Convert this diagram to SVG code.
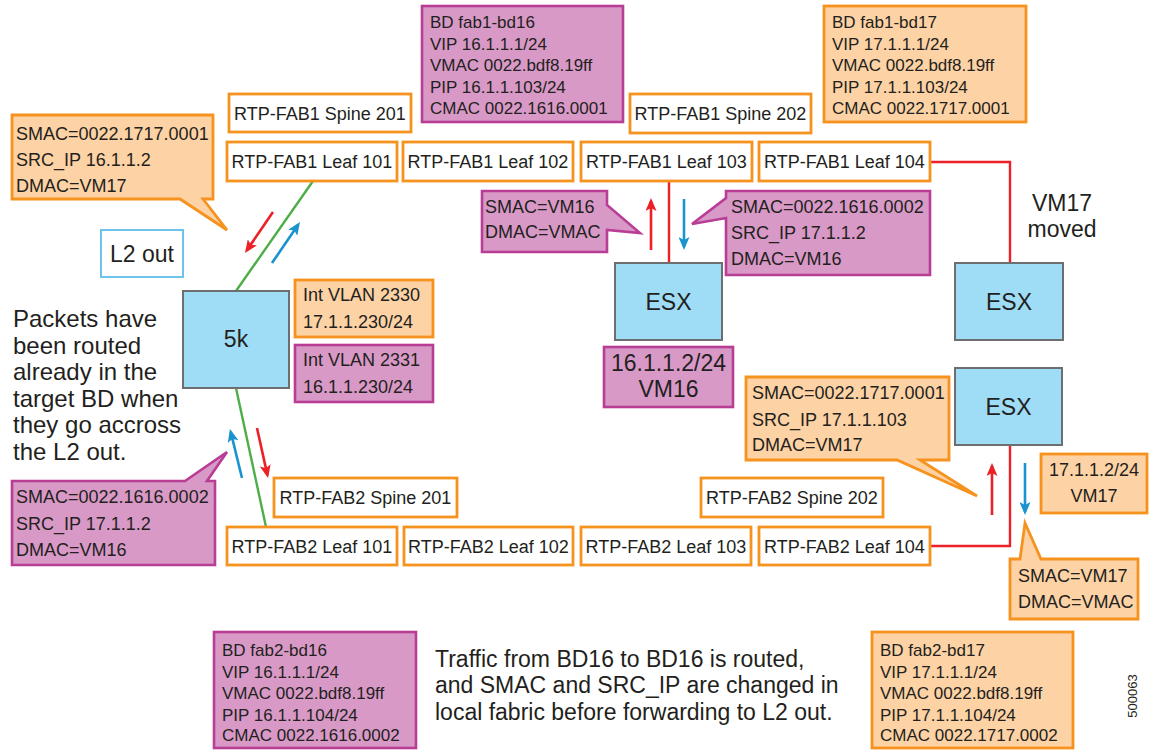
<svg xmlns="http://www.w3.org/2000/svg" width="1156" height="751" viewBox="0 0 1156 751">
  <style>
    text { font-family: "Liberation Sans", Arial, sans-serif; fill: #231f20; }
    .lbl { font-size: 18px; }
    .bd { font-size: 17px; }
    .big { font-size: 23px; }
    .note { font-size: 24px; }
    .sw { fill: #ffffff; stroke: #f6921e; stroke-width: 2.8; }
    .or { fill: #fdd2a4; stroke: #f6921e; stroke-width: 2.8; stroke-linejoin: miter; }
    .pu { fill: #d899c7; stroke: #b83d95; stroke-width: 2.6; stroke-linejoin: miter; }
    .hw { fill: #9fdcf6; stroke: #6d6e70; stroke-width: 2; }
    .l2 { fill: #ffffff; stroke: #6cc4ea; stroke-width: 2; }
    .mid { text-anchor: middle; }
    .red { stroke: #ec2027; stroke-width: 2.4; fill: none; }
    .grn { stroke: #4dae48; stroke-width: 2.4; fill: none; }
    .ar-r { stroke: #ec2027; stroke-width: 2.6; fill: none; marker-end: url(#head-red); }
    .ar-b { stroke: #1a93cf; stroke-width: 2.6; fill: none; marker-end: url(#head-blue); }
  </style>
  <defs>
    <marker id="head-red" viewBox="0 0 13 11" refX="10" refY="5.5" markerWidth="13" markerHeight="11" markerUnits="userSpaceOnUse" orient="auto">
      <path d="M0,0 L13,5.5 L0,11 L3,5.5 Z" fill="#ec2027"/>
    </marker>
    <marker id="head-blue" viewBox="0 0 13 11" refX="10" refY="5.5" markerWidth="13" markerHeight="11" markerUnits="userSpaceOnUse" orient="auto">
      <path d="M0,0 L13,5.5 L0,11 L3,5.5 Z" fill="#1a93cf"/>
    </marker>
  </defs>

  <rect x="0" y="0" width="1156" height="751" fill="#ffffff"/>

  <!-- links and traffic arrows -->
  <g id="connectors">
    <line class="grn" x1="313" y1="181" x2="236" y2="291"/>
    <line class="grn" x1="236" y1="388" x2="266" y2="527"/>
    <line class="red" x1="669" y1="181" x2="669" y2="263"/>
    <polyline class="red" points="930,162 1010,162 1010,263"/>
    <polyline class="red" points="1010,445 1010,546 930,546"/>

    <line class="ar-r" x1="273" y1="212" x2="246.7" y2="250.5"/>
    <line class="ar-b" x1="272" y1="263" x2="298.3" y2="224.5"/>
    <line class="ar-b" x1="242" y1="478" x2="230.7" y2="431.9"/>
    <line class="ar-r" x1="257" y1="428" x2="267.4" y2="475.1"/>
    <line class="ar-r" x1="651" y1="250" x2="651" y2="201"/>
    <line class="ar-b" x1="684" y1="199" x2="684" y2="247"/>
    <line class="ar-r" x1="992" y1="515" x2="992" y2="466"/>
    <line class="ar-b" x1="1025" y1="463" x2="1025" y2="512"/>
  </g>

  <!-- fabric 1 switches -->
  <g id="fab1-spine201"><rect class="sw" x="229" y="94" width="182" height="38"/><text class="lbl mid" x="320" y="120">RTP-FAB1 Spine 201</text></g>
  <g id="fab1-spine202"><rect class="sw" x="630" y="94" width="181" height="39"/><text class="lbl mid" x="720.5" y="120">RTP-FAB1 Spine 202</text></g>
  <g id="fab1-leaf101"><rect class="sw" x="227" y="142" width="170" height="39"/><text class="lbl mid" x="312" y="168">RTP-FAB1 Leaf 101</text></g>
  <g id="fab1-leaf102"><rect class="sw" x="403" y="142" width="170" height="39"/><text class="lbl mid" x="488" y="168">RTP-FAB1 Leaf 102</text></g>
  <g id="fab1-leaf103"><rect class="sw" x="581" y="142" width="171" height="39"/><text class="lbl mid" x="666.5" y="168">RTP-FAB1 Leaf 103</text></g>
  <g id="fab1-leaf104"><rect class="sw" x="759" y="142" width="171" height="39"/><text class="lbl mid" x="844.5" y="168">RTP-FAB1 Leaf 104</text></g>

  <!-- fabric 2 switches -->
  <g id="fab2-spine201"><rect class="sw" x="274" y="478" width="183" height="39"/><text class="lbl mid" x="365.5" y="504">RTP-FAB2 Spine 201</text></g>
  <g id="fab2-spine202"><rect class="sw" x="701" y="478" width="182" height="39"/><text class="lbl mid" x="792" y="504">RTP-FAB2 Spine 202</text></g>
  <g id="fab2-leaf101"><rect class="sw" x="227" y="527" width="170" height="38"/><text class="lbl mid" x="312" y="553">RTP-FAB2 Leaf 101</text></g>
  <g id="fab2-leaf102"><rect class="sw" x="404" y="527" width="169" height="38"/><text class="lbl mid" x="488.5" y="553">RTP-FAB2 Leaf 102</text></g>
  <g id="fab2-leaf103"><rect class="sw" x="581" y="527" width="170" height="38"/><text class="lbl mid" x="666" y="553">RTP-FAB2 Leaf 103</text></g>
  <g id="fab2-leaf104"><rect class="sw" x="759" y="527" width="171" height="38"/><text class="lbl mid" x="844.5" y="553">RTP-FAB2 Leaf 104</text></g>

  <!-- bridge domain tables -->
  <g id="bd-fab1-bd16">
    <rect class="pu" x="422" y="6" width="201" height="116"/>
    <text class="bd" x="430" y="28">BD fab1-bd16</text>
    <text class="bd" x="430" y="49.5">VIP 16.1.1.1/24</text>
    <text class="bd" x="430" y="71">VMAC 0022.bdf8.19ff</text>
    <text class="bd" x="430" y="92.5">PIP 16.1.1.103/24</text>
    <text class="bd" x="430" y="114">CMAC 0022.1616.0001</text>
  </g>
  <g id="bd-fab1-bd17">
    <rect class="or" x="824" y="6" width="202" height="116"/>
    <text class="bd" x="832" y="28">BD fab1-bd17</text>
    <text class="bd" x="832" y="49.5">VIP 17.1.1.1/24</text>
    <text class="bd" x="832" y="71">VMAC 0022.bdf8.19ff</text>
    <text class="bd" x="832" y="92.5">PIP 17.1.1.103/24</text>
    <text class="bd" x="832" y="114">CMAC 0022.1717.0001</text>
  </g>
  <g id="bd-fab2-bd16">
    <rect class="pu" x="214" y="632" width="202" height="116"/>
    <text class="bd" x="222" y="656">BD fab2-bd16</text>
    <text class="bd" x="222" y="677.5">VIP 16.1.1.1/24</text>
    <text class="bd" x="222" y="699">VMAC 0022.bdf8.19ff</text>
    <text class="bd" x="222" y="720.5">PIP 16.1.1.104/24</text>
    <text class="bd" x="222" y="741">CMAC 0022.1616.0002</text>
  </g>
  <g id="bd-fab2-bd17">
    <rect class="or" x="872" y="632" width="201" height="116"/>
    <text class="bd" x="880" y="656">BD fab2-bd17</text>
    <text class="bd" x="880" y="677.5">VIP 17.1.1.1/24</text>
    <text class="bd" x="880" y="699">VMAC 0022.bdf8.19ff</text>
    <text class="bd" x="880" y="720.5">PIP 17.1.1.104/24</text>
    <text class="bd" x="880" y="741">CMAC 0022.1717.0002</text>
  </g>

  <!-- hosts and the 5k -->
  <g id="l2-out"><rect class="l2" x="101" y="230" width="82" height="47"/><text class="big mid" x="142" y="262">L2 out</text></g>
  <g id="n5k"><rect class="hw" x="183" y="291" width="106" height="97"/><text class="big mid" x="236" y="347">5k</text></g>
  <g id="esx-vm16"><rect class="hw" x="615" y="263" width="107" height="77"/><text class="big mid" x="668.5" y="310">ESX</text></g>
  <g id="esx-fab1"><rect class="hw" x="955" y="263" width="108" height="77"/><text class="big mid" x="1009" y="310">ESX</text></g>
  <g id="esx-vm17"><rect class="hw" x="955" y="368" width="107" height="77"/><text class="big mid" x="1008.5" y="415">ESX</text></g>

  <!-- SVI and VM addresses -->
  <g id="svi-2330">
    <rect class="or" x="295" y="280" width="138" height="57"/>
    <text class="lbl" x="303" y="301">Int VLAN 2330</text>
    <text class="lbl" x="303" y="328">17.1.1.230/24</text>
  </g>
  <g id="svi-2331">
    <rect class="pu" x="295" y="345" width="138" height="57"/>
    <text class="lbl" x="303" y="366">Int VLAN 2331</text>
    <text class="lbl" x="303" y="393">16.1.1.230/24</text>
  </g>
  <g id="vm16">
    <rect class="pu" x="604" y="347" width="129" height="60"/>
    <text class="big mid" x="668.5" y="371">16.1.1.2/24</text>
    <text class="big mid" x="668.5" y="397">VM16</text>
  </g>
  <g id="vm17">
    <rect class="or" x="1041" y="454" width="106" height="59"/>
    <text class="lbl mid" x="1094" y="476">17.1.1.2/24</text>
    <text class="lbl mid" x="1094" y="502">VM17</text>
  </g>

  <!-- packet header callouts -->
  <g id="hdr-to-l2out">
    <path class="or" d="M12,115 H213 V199 H203 L227,230 L180,199 H12 Z"/>
    <text class="lbl" x="16" y="139.5">SMAC=0022.1717.0001</text>
    <text class="lbl" x="16" y="165.5">SRC_IP 16.1.1.2</text>
    <text class="lbl" x="16" y="191.5">DMAC=VM17</text>
  </g>
  <g id="hdr-from-l2out">
    <path class="pu" d="M12,481 H185 L227,452 L207,481 H215 V565 H12 Z"/>
    <text class="lbl" x="16" y="503">SMAC=0022.1616.0002</text>
    <text class="lbl" x="16" y="530">SRC_IP 17.1.1.2</text>
    <text class="lbl" x="16" y="556">DMAC=VM16</text>
  </g>
  <g id="hdr-vm16-up">
    <path class="pu" d="M482,191 H607 V205 L640,233 L607,230 V252 H482 Z"/>
    <text class="lbl" x="485" y="213">SMAC=VM16</text>
    <text class="lbl" x="485" y="238">DMAC=VMAC</text>
  </g>
  <g id="hdr-vm16-down">
    <path class="pu" d="M726,191 H930 V275 H726 V218 L692,224 L726,198 Z"/>
    <text class="lbl" x="731" y="213">SMAC=0022.1616.0002</text>
    <text class="lbl" x="731" y="239">SRC_IP 17.1.1.2</text>
    <text class="lbl" x="731" y="265">DMAC=VM16</text>
  </g>
  <g id="hdr-vm17-down">
    <path class="or" d="M746,377 H949 V460 H920 L977,496 L897,460 H746 Z"/>
    <text class="lbl" x="752" y="399">SMAC=0022.1717.0001</text>
    <text class="lbl" x="752" y="426">SRC_IP 17.1.1.103</text>
    <text class="lbl" x="752" y="451">DMAC=VM17</text>
  </g>
  <g id="hdr-vm17-up">
    <path class="or" d="M1010,559 H1020 L1025,523 L1041,559 H1138 V619 H1010 Z"/>
    <text class="lbl" x="1018" y="582">SMAC=VM17</text>
    <text class="lbl" x="1018" y="608">DMAC=VMAC</text>
  </g>

  <!-- notes -->
  <g id="note-vm17">
    <text class="big mid" x="1062" y="211">VM17</text>
    <text class="big mid" x="1062" y="237">moved</text>
  </g>
  <g id="note-routed">
    <text class="note" x="13" y="327">Packets have</text>
    <text class="note" x="13" y="353.5">been routed</text>
    <text class="note" x="13" y="380">already in the</text>
    <text class="note" x="13" y="406.5">target BD when</text>
    <text class="note" x="13" y="433">they go accross</text>
    <text class="note" x="13" y="459.5">the L2 out.</text>
  </g>
  <g id="note-traffic">
    <text class="big" x="435" y="667">Traffic from BD16 to BD16 is routed,</text>
    <text class="big" x="435" y="693">and SMAC and SRC_IP are changed in</text>
    <text class="big" x="435" y="720">local fabric before forwarding to L2 out.</text>
  </g>
  <text x="1137" y="696" font-size="13" text-anchor="middle" transform="rotate(-90 1137 696)">500063</text>
</svg>
